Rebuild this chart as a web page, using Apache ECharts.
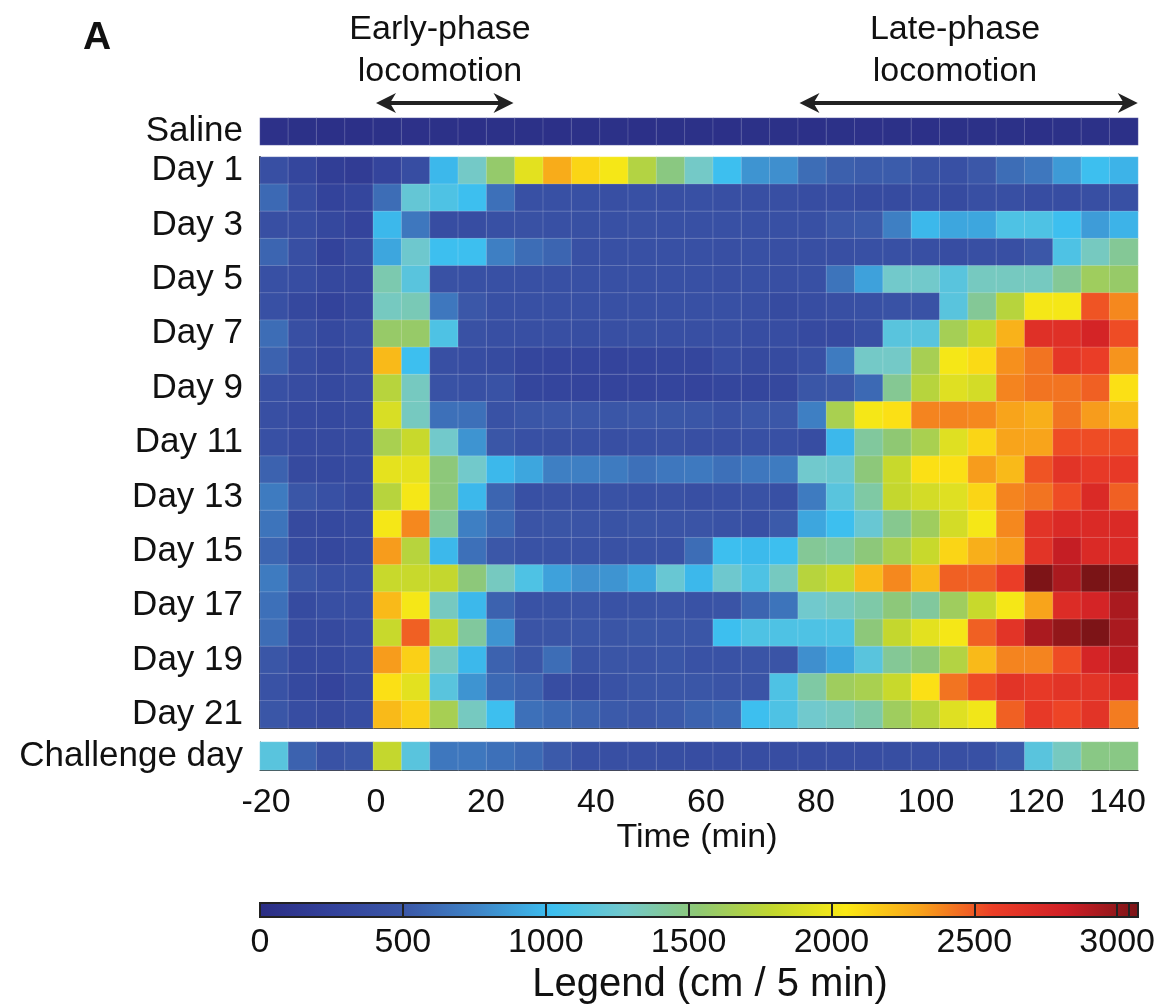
<!DOCTYPE html>
<html>
<head>
<meta charset="utf-8">
<script src="https://cdn.jsdelivr.net/npm/echarts@6/dist/echarts.min.js"></script>
<style>
  html, body { margin: 0; padding: 0; background: #fff; }
  #chart { width: 1158px; height: 1006px; }
</style>
</head>
<body>
<div id="chart"></div>
<script>
// 5-min bins, start time of each bin (min)
var timeBins = ['-20','-15','-10','-5','0','5','10','15','20','25','30','35','40','45','50','55',
  '60','65','70','75','80','85','90','95','100','105','110','115','120','125','130'];

var dayLabels = ['Day 1','Day 2','Day 3','Day 4','Day 5','Day 6','Day 7','Day 8','Day 9','Day 10','Day 11',
  'Day 12','Day 13','Day 14','Day 15','Day 16','Day 17','Day 18','Day 19','Day 20','Day 21'];

// distance (cm / 5 min)
var saline = [50, 45, 40, 40, 45, 50, 45, 40, 45, 45, 40, 45, 45, 40, 45, 45,
  40, 45, 45, 40, 45, 50, 45, 40, 45, 45, 45, 40, 45, 45, 40];

var days = [
  [400, 300, 200, 180, 280, 380, 980, 1280, 1550, 1920, 2250, 2100, 2000, 1700, 1480, 1280, 1020, 820, 800, 620, 550, 530, 530, 450, 420, 500, 620, 680, 850, 1020, 960],
  [600, 380, 260, 300, 620, 1200, 1100, 1020, 640, 420, 420, 420, 400, 420, 400, 420, 400, 400, 400, 380, 380, 360, 360, 380, 360, 400, 400, 380, 380, 400, 420],
  [400, 380, 320, 280, 980, 680, 380, 380, 420, 430, 420, 410, 420, 430, 420, 420, 420, 420, 420, 420, 500, 520, 720, 980, 900, 900, 1100, 1100, 1020, 860, 960],
  [580, 400, 260, 360, 900, 1250, 1020, 1020, 720, 620, 580, 420, 420, 420, 420, 420, 400, 420, 400, 400, 400, 420, 420, 400, 380, 400, 400, 500, 1100, 1300, 1420],
  [420, 380, 320, 320, 1350, 1150, 430, 420, 420, 420, 420, 420, 420, 420, 420, 420, 400, 420, 400, 420, 660, 880, 1270, 1270, 1150, 1300, 1300, 1300, 1420, 1600, 1560],
  [420, 320, 260, 320, 1300, 1330, 680, 500, 420, 420, 420, 420, 420, 420, 420, 420, 420, 400, 360, 380, 400, 420, 440, 440, 1150, 1420, 1720, 2000, 2000, 2480, 2350],
  [620, 400, 330, 380, 1560, 1560, 1100, 430, 400, 400, 400, 390, 400, 410, 400, 400, 400, 380, 380, 350, 350, 420, 1150, 1150, 1630, 1780, 2230, 2650, 2650, 2750, 2500],
  [560, 380, 320, 370, 2200, 1020, 400, 380, 360, 300, 290, 290, 280, 290, 300, 300, 380, 340, 360, 420, 700, 1280, 1280, 1640, 2000, 2080, 2330, 2400, 2600, 2550, 2320],
  [420, 370, 330, 370, 1720, 1300, 440, 420, 440, 300, 290, 280, 280, 280, 290, 280, 300, 300, 320, 480, 500, 600, 1430, 1720, 1900, 1850, 2360, 2400, 2400, 2450, 2060],
  [400, 350, 330, 360, 1870, 1300, 640, 640, 440, 480, 500, 500, 480, 500, 490, 480, 440, 500, 500, 720, 1650, 2000, 2060, 2360, 2360, 2350, 2280, 2240, 2400, 2300, 2200],
  [420, 350, 340, 360, 1650, 1800, 1270, 820, 480, 420, 410, 420, 400, 420, 430, 400, 400, 420, 420, 380, 980, 1400, 1520, 1650, 1900, 2100, 2280, 2280, 2500, 2500, 2500],
  [560, 340, 330, 360, 1930, 1930, 1500, 1270, 980, 900, 720, 720, 700, 640, 680, 690, 640, 680, 700, 1260, 1230, 1500, 1800, 2060, 2060, 2300, 2200, 2480, 2620, 2580, 2580],
  [700, 480, 420, 360, 1720, 2000, 1500, 980, 580, 420, 430, 420, 440, 420, 430, 400, 420, 440, 420, 700, 1150, 1380, 1780, 1850, 1900, 2100, 2360, 2400, 2500, 2700, 2450],
  [660, 340, 330, 360, 2000, 2350, 1420, 720, 600, 460, 470, 460, 450, 470, 460, 460, 440, 420, 520, 900, 1020, 1220, 1440, 1600, 1850, 2000, 2350, 2620, 2700, 2700, 2700],
  [580, 360, 320, 360, 2300, 1720, 980, 640, 500, 440, 440, 440, 430, 440, 440, 620, 1020, 990, 1020, 1420, 1380, 1500, 1650, 1800, 2100, 2240, 2300, 2620, 2820, 2700, 2700],
  [700, 480, 420, 420, 1800, 1800, 1780, 1500, 1300, 1100, 880, 800, 820, 900, 1220, 980, 1250, 1100, 1300, 1720, 1800, 2200, 2350, 2200, 2450, 2450, 2550, 3030, 2900, 3040, 3020],
  [640, 360, 400, 400, 2200, 2000, 1300, 980, 560, 440, 450, 460, 440, 450, 460, 440, 460, 580, 660, 1260, 1300, 1370, 1500, 1400, 1600, 1800, 2000, 2280, 2680, 2750, 2900],
  [620, 360, 340, 380, 1800, 2450, 1780, 1400, 820, 460, 470, 480, 470, 490, 480, 480, 1020, 1100, 1100, 1100, 1100, 1500, 1780, 1920, 2000, 2450, 2620, 2900, 2970, 3030, 2900],
  [480, 330, 330, 380, 2300, 2120, 1300, 980, 560, 480, 620, 450, 470, 460, 480, 440, 440, 460, 460, 800, 900, 1150, 1420, 1500, 1700, 2200, 2360, 2360, 2500, 2750, 2850],
  [440, 330, 280, 360, 2060, 1920, 1150, 820, 600, 560, 380, 360, 440, 480, 480, 480, 460, 460, 1100, 1380, 1600, 1650, 1800, 2060, 2400, 2500, 2620, 2580, 2620, 2620, 2700],
  [480, 380, 340, 380, 2200, 2120, 1640, 1300, 1020, 640, 600, 560, 520, 500, 520, 560, 580, 1020, 1100, 1260, 1300, 1370, 1600, 1720, 1900, 1980, 2450, 2580, 2520, 2620, 2380]
];

var challenge = [1150, 560, 440, 480, 1780, 1150, 680, 680, 640, 600, 520, 420, 400, 400, 390, 380,
  380, 380, 380, 380, 380, 380, 390, 400, 400, 420, 520, 1150, 1300, 1470, 1470];

// phase annotations (min on the time axis)
var earlyPhase = [0, 25];
var latePhase = [77, 138.5];

var colorMax = 3040;
var jet = ['#2b2d84', '#33429b', '#3b58a8', '#3f86c8', '#3cbff0', '#72c9cc', '#8fc873',
  '#c2d72f', '#fbe914', '#f8a41b', '#ec3f27', '#d01f26', '#7a1416'];

var FONT = '"Liberation Sans", Arial, Helvetica, sans-serif';

function cells(rows) {
  var out = [];
  rows.forEach(function (row, r) {
    row.forEach(function (v, c) { out.push([c, r, v]); });
  });
  return out;
}

var chart = echarts.init(document.getElementById('chart'), null, { renderer: 'canvas' });

var cellStyle = { borderColor: 'rgba(255,255,255,0.18)', borderWidth: 1 };
var hiddenCat = function (gi, line) {
  return {
    type: 'category', gridIndex: gi, data: timeBins,
    axisLabel: { show: false }, axisTick: { show: false },
    axisLine: { show: !!line, lineStyle: { color: '#222', width: line || 1 } },
    splitLine: { show: false }
  };
};
var rowLabel = { fontSize: 35, color: '#111', fontFamily: FONT, margin: 17 };
var rowAxis = function (gi, labels, line, extra) {
  var ax = {
    type: 'category', gridIndex: gi, data: labels,
    axisTick: { show: false },
    axisLine: { show: !!line, lineStyle: { color: '#222', width: line || 1 } },
    axisLabel: rowLabel,
    splitLine: { show: false }
  };
  return Object.assign(ax, extra || {});
};

var option = {
  animation: false,
  backgroundColor: '#fff',
  grid: [
    { left: 260, width: 878, top: 118, height: 27 },
    { left: 260, width: 878, top: 157, height: 571 },
    { left: 260, width: 878, top: 742, height: 28 },
    { left: 266, width: 880, top: 742, height: 28 },
    { left: 260, width: 878, top: 903, height: 14 }
  ],
  xAxis: [
    hiddenCat(0),
    hiddenCat(1, 2),
    hiddenCat(2, 1),
    {
      type: 'value', gridIndex: 3, min: -20, max: 140, interval: 20,
      axisLine: { show: false }, axisTick: { show: false }, splitLine: { show: false },
      axisLabel: { fontSize: 34, color: '#111', fontFamily: FONT, margin: 16, alignMaxLabel: 'right' }
    },
    {
      type: 'value', gridIndex: 4, min: 0, max: colorMax, interval: 500, z: 20,
      axisLine: { show: false }, axisTick: { show: false },
      splitLine: { show: true, lineStyle: { color: '#222', width: 2 } },
      axisLabel: {
        fontSize: 34, color: '#111', fontFamily: FONT, margin: 9, showMaxLabel: false,
        formatter: function (v) { return String(v); }
      }
    }
  ],
  yAxis: [
    rowAxis(0, ['Saline']),
    rowAxis(1, dayLabels, 2, { inverse: true, axisLabel: Object.assign({}, rowLabel, { interval: 1 }) }),
    rowAxis(2, ['Challenge day'], 1),
    { type: 'value', gridIndex: 3, show: false },
    { type: 'value', gridIndex: 4, show: false }
  ],
  visualMap: {
    type: 'continuous', show: false, min: 0, max: colorMax, dimension: 2,
    seriesIndex: [0, 1, 2], inRange: { color: jet }
  },
  series: [
    { type: 'heatmap', xAxisIndex: 0, yAxisIndex: 0, data: cells([saline]), itemStyle: cellStyle },
    { type: 'heatmap', xAxisIndex: 1, yAxisIndex: 1, data: cells(days), itemStyle: cellStyle },
    { type: 'heatmap', xAxisIndex: 2, yAxisIndex: 2, data: cells([challenge]), itemStyle: cellStyle }
  ]
};

chart.setOption(option);

// annotations, placed from the time axis
var px = function (t) { return chart.convertToPixel({ xAxisIndex: 3 }, t); };

function arrow(x1, x2, y) {
  return [
    { type: 'line', shape: { x1: x1 + 12, y1: y, x2: x2 - 12, y2: y }, style: { stroke: '#222', lineWidth: 4 }, z: 5 },
    { type: 'polygon', shape: { points: [[x1, y], [x1 + 20, y - 10], [x1 + 14, y], [x1 + 20, y + 10]] }, style: { fill: '#222' }, z: 5 },
    { type: 'polygon', shape: { points: [[x2, y], [x2 - 20, y - 10], [x2 - 14, y], [x2 - 20, y + 10]] }, style: { fill: '#222' }, z: 5 }
  ];
}

function label(text, x, y, size, weight) {
  return {
    type: 'text', x: x, y: y, z: 5,
    style: {
      text: text, fill: '#111', fontSize: size, fontWeight: weight || 'normal',
      fontFamily: FONT, align: 'center', verticalAlign: 'middle'
    }
  };
}

var stops = jet.map(function (c, i) { return { offset: i / (jet.length - 1), color: c }; });

var g = [
  label('A', 97, 38, 39, 'bold'),
  label('Early-phase', 440, 30, 34),
  label('locomotion', 440, 72, 34),
  label('Late-phase', 955, 30, 34),
  label('locomotion', 955, 72, 34),
  label('Time (min)', 697, 838, 34),
  label('Legend (cm / 5 min)', 710, 985, 40),
  {
    type: 'rect', z: 1,
    shape: { x: 260, y: 903, width: 878, height: 14 },
    style: { fill: new echarts.graphic.LinearGradient(0, 0, 1, 0, stops), stroke: '#222', lineWidth: 2 }
  }
].concat(arrow(px(earlyPhase[0]), px(earlyPhase[1]), 103))
 .concat(arrow(px(latePhase[0]), px(latePhase[1]), 103));

chart.setOption({ graphic: g });
</script>
</body>
</html>
